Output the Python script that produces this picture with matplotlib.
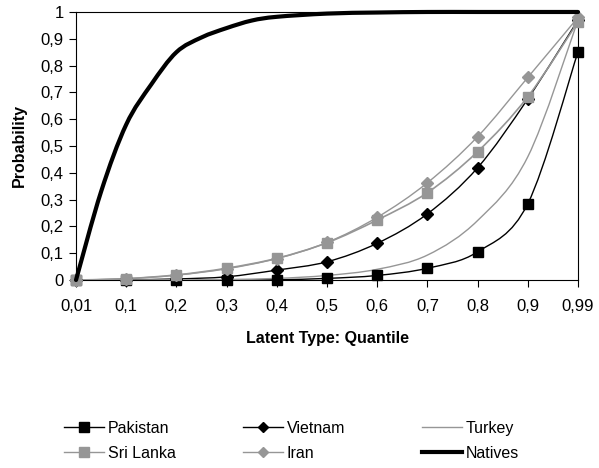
import numpy as np
import matplotlib.pyplot as plt
from matplotlib.path import Path
from matplotlib.patches import PathPatch
from matplotlib.lines import Line2D

plt.rcParams['font.family'] = ['Liberation Sans', 'DejaVu Sans']

quantiles = ["0,01", "0,1", "0,2", "0,3", "0,4", "0,5", "0,6", "0,7", "0,8", "0,9", "0,99"]
y_labels = ["0", "0,1", "0,2", "0,3", "0,4", "0,5", "0,6", "0,7", "0,8", "0,9", "1"]

pakistan = [0, 0, 0, 0, 0.001, 0.006, 0.017, 0.044, 0.105, 0.285, 0.852]
vietnam = [0, 0.001, 0.004, 0.012, 0.037, 0.068, 0.137, 0.247, 0.419, 0.676, 0.97]
turkey = [0, 0, 0.001, 0.002, 0.006, 0.017, 0.04, 0.093, 0.222, 0.46, 0.97]
sri_lanka = [0, 0.005, 0.019, 0.044, 0.081, 0.139, 0.224, 0.326, 0.479, 0.684, 0.964]
iran = [0, 0.005, 0.018, 0.042, 0.08, 0.14, 0.234, 0.363, 0.535, 0.756, 0.98]

# natives series has extra points between the first categories
natives_pos = [0, 0.5, 1, 1.5, 2, 2.5, 3, 3.5, 4, 5, 6, 7, 8, 9, 10]
natives = [0, 0.33, 0.58, 0.73, 0.85, 0.905, 0.94, 0.968, 0.982, 0.994, 0.998, 1, 1, 1, 1]

gray = "#969696"


def smooth_path(xs, ys):
    # Excel style smoothed line: cubic bezier through every point
    p = np.column_stack([xs, ys]).astype(float)
    n = len(p)
    verts = [p[0]]
    codes = [Path.MOVETO]
    for i in range(n - 1):
        p0 = p[i - 1] if i > 0 else p[i]
        p3 = p[i + 2] if i + 2 < n else p[i + 1]
        c1 = p[i] + (p[i + 1] - p0) / 6.
        c2 = p[i + 1] - (p3 - p[i]) / 6.
        verts += [c1, c2, p[i + 1]]
        codes += [Path.CURVE4] * 3
    return Path(verts, codes)


fig = plt.figure(figsize=(5.99, 4.68), dpi=100)
ax = fig.add_axes([0.1269, 0.4017, 0.8381, 0.5727])

pos = np.arange(len(quantiles))

series = [
    (pakistan, "black", 1.0, "s", 7.5),
    (vietnam, "black", 1.0, "D", 6),
    (turkey, gray, 1.0, None, 0),
    (sri_lanka, gray, 1.2, "s", 7.5),
    (iran, gray, 1.0, "D", 6),
]

for vals, col, lw, mk, ms in series:
    ax.add_patch(PathPatch(smooth_path(pos, vals), fill=False, edgecolor=col, lw=lw, zorder=3))
    if mk is not None:
        ax.plot(pos, vals, linestyle="none", marker=mk, markersize=ms, color=col, zorder=4, clip_on=False)

ax.add_patch(PathPatch(smooth_path(natives_pos, natives), fill=False, edgecolor="black", lw=3.0,
                       zorder=5, capstyle="round", joinstyle="round", clip_on=False))

ax.set_xlim(0, 10)
ax.set_ylim(0, 1)
ax.set_xticks(pos)
ax.set_xticklabels(quantiles, fontsize=12)
ax.set_yticks(np.linspace(0, 1, 11))
ax.set_yticklabels(y_labels, fontsize=12)
ax.tick_params(direction="out", length=5, width=0.8, pad=4)
ax.tick_params(axis="x", pad=8.5)
for s in ax.spines.values():
    s.set_linewidth(0.8)

ax.set_xlabel("Latent Type: Quantile", fontsize=11.5, fontweight="bold", labelpad=12.5)
ax.set_ylabel("Probability", fontsize=11.5, fontweight="bold", labelpad=10)

# legend: three equal columns like the original
legend_cols = [
    (["Pakistan", "Sri Lanka"],
     [Line2D([], [], color="black", lw=1, marker="s", markersize=7),
      Line2D([], [], color=gray, lw=1, marker="s", markersize=7)], 0.0828),
    (["Vietnam", "Iran"],
     [Line2D([], [], color="black", lw=1, marker="D", markersize=5.5),
      Line2D([], [], color=gray, lw=1, marker="D", markersize=5.5)], 0.3816),
    (["Turkey", "Natives"],
     [Line2D([], [], color=gray, lw=1),
      Line2D([], [], color="black", lw=3)], 0.6805),
]
for names, handles, x0 in legend_cols:
    fig.legend(handles, names, loc="center left", bbox_to_anchor=(x0, 0.058),
               frameon=False, fontsize=11.5, handlelength=2.5, handletextpad=0.25,
               labelspacing=0.6)

fig.savefig("out.png", dpi=100)
